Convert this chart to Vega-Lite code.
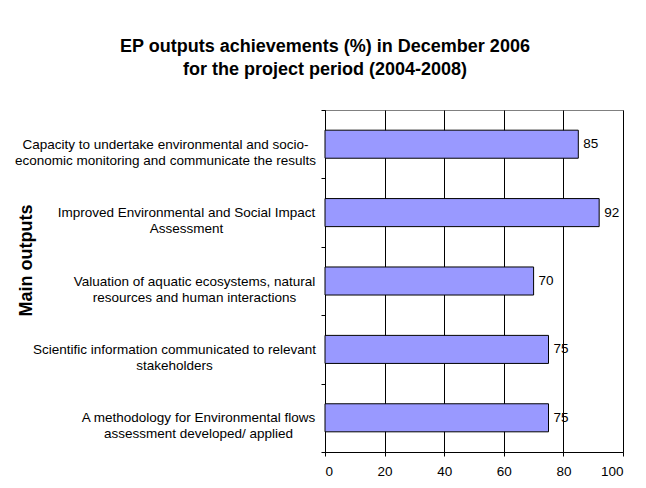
{
  "$schema": "https://vega.github.io/schema/vega-lite/v6.json",
  "autosize": {"type": "none"},
  "width": 298,
  "height": 342,
  "padding": {"left": 325, "top": 110, "right": 23, "bottom": 36},
  "background": "white",
  "title": {
    "text": ["EP outputs achievements (%) in December 2006", "for the project period (2004-2008)"],
    "font": "Liberation Sans",
    "fontSize": 18,
    "fontWeight": "bold",
    "color": "black",
    "anchor": "middle",
    "frame": "group",
    "dx": -149,
    "offset": 24,
    "lineHeight": 23
  },
  "data": {
    "values": [
      {"output": "Capacity to undertake environmental and socio-|economic monitoring and communicate the results", "pct": 85},
      {"output": "Improved Environmental and Social Impact|Assessment", "pct": 92},
      {"output": "Valuation of aquatic ecosystems, natural|resources and human interactions", "pct": 70},
      {"output": "Scientific information communicated to relevant|stakeholders", "pct": 75},
      {"output": "A methodology for Environmental flows|assessment developed/ applied", "pct": 75}
    ]
  },
  "encoding": {
    "y": {
      "field": "output",
      "type": "nominal",
      "sort": null,
      "scale": {"paddingInner": 0, "paddingOuter": 0},
      "axis": {
        "title": "Main outputs",
        "titleFont": "Liberation Sans",
        "titleFontSize": 18,
        "titleFontWeight": "bold",
        "titleColor": "black",
        "titleAngle": 270,
        "titleX": -299,
        "titleY": 150,
        "titleAlign": "center",
        "titleBaseline": "middle",
        "labelExpr": "split(datum.label, '|')",
        "labelFont": "Liberation Sans",
        "labelFontSize": 13.5,
        "labelColor": "black",
        "labelLineHeight": 16,
        "labelAlign": "center",
        "labelBaseline": "middle",
        "labelLimit": 400,
        "labelPadding": {"expr": "datum && datum.value ? (indexof(datum.value, 'Capacity') == 0 ? 156 : indexof(datum.value, 'Improved') == 0 ? 135 : indexof(datum.value, 'Valuation') == 0 ? 127 : indexof(datum.value, 'Scientific') == 0 ? 147 : 123) : 140"},
        "tickBand": "extent",
        "tickSize": 4,
        "tickColor": "black",
        "domainColor": "black",
        "grid": false
      }
    },
    "x": {
      "field": "pct",
      "type": "quantitative",
      "scale": {"domain": [0, 100], "nice": false},
      "axis": {
        "title": null,
        "values": [0, 20, 40, 60, 80, 100],
        "labelFont": "Liberation Sans",
        "labelFontSize": 13.5,
        "labelColor": "black",
        "labelPadding": 8,
        "tickSize": 4,
        "tickColor": "black",
        "domainColor": "black",
        "grid": true,
        "gridColor": "black",
        "gridWidth": 1
      }
    }
  },
  "layer": [
    {
      "mark": {"type": "bar", "color": "#9999FF", "stroke": "black", "strokeWidth": 1, "height": {"band": 0.41}}
    },
    {
      "mark": {"type": "text", "align": "left", "baseline": "middle", "dx": 5, "font": "Liberation Sans", "fontSize": 13.5, "color": "black"},
      "encoding": {"text": {"field": "pct", "type": "quantitative"}}
    }
  ],
  "config": {
    "view": {"stroke": "#808080", "strokeWidth": 1}
  }
}
